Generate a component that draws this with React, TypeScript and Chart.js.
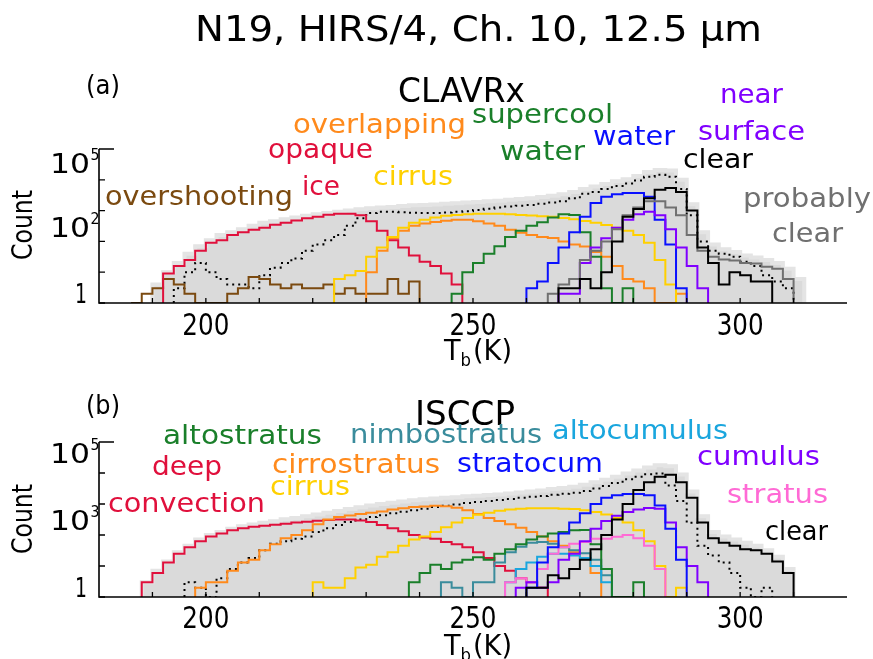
import React, { useEffect, useRef } from 'react';
import { Chart, registerables } from 'chart.js';
Chart.register(...registerables);

// ---------- axis setup ----------
const BIN = 2;
const X_MIN = 180;
const X_MAX = 320;
const Y_MIN = 1;
const Y_MAX = 1e5;
const X_TICK_LABELS = [200, 250, 300];
const X_MINOR_TICKS = [190, 200, 210, 220, 230, 240, 250, 260, 270, 280, 290, 300, 310];
const Y_DECADES = [1, 10, 100, 1000, 10000, 100000];

// ---------- panel (a) CLAVRx : counts per 2 K bin, first bin edge given ----------
const A_TOTAL_START = 190;
const A_TOTAL = [4, 10, 20, 40, 70, 110, 160, 200, 250, 320, 400, 450, 520, 600, 680, 760, 830, 910, 1000, 1100, 1200, 1260, 1320, 1410, 1480, 1510, 1590, 1660, 1740, 1820, 1900, 2000, 2090, 2240, 2400, 2510, 2750, 3020, 3390, 3980, 5010, 6030, 7240, 8910, 10500, 13200, 17800, 20900, 20000, 10000, 1600, 200, 80, 56, 45, 35, 30, 25, 20, 13, 6];
const A_DOTTED_START = 194;
const A_DOTTED = [3, 10, 20, 10, 6, 4, 4, 3, 8, 14, 20, 28, 50, 80, 110, 160, 320, 560, 830, 910, 910, 890, 850, 830, 830, 870, 910, 950, 1050, 1150, 1260, 1350, 1450, 1510, 1660, 1820, 2000, 2510, 3550, 3980, 5010, 6310, 7590, 9550, 12600, 14500, 12600, 5010, 700, 100, 50, 40, 32, 22, 16, 8, 5, 3];
const A_OVERSHOOT_START = 186;
const A_OVERSHOOT = [0, 2, 3, 6, 4, 2, 0, 0, 0, 2, 3, 7, 6, 4, 3, 4, 3, 3, 4, 2, 3, 2, 2, 2, 6, 2, 5];
const A_OPAQUE_START = 192;
const A_OPAQUE = [9, 16, 25, 50, 90, 110, 160, 200, 240, 280, 350, 400, 480, 560, 630, 740, 790, 790, 710, 450, 220, 110, 63, 35, 22, 16, 9, 4];
const A_CIRRUS_START = 224;
const A_CIRRUS = [6, 8, 11, 32, 63, 140, 280, 400, 500, 600, 680, 720, 760, 790, 790, 790, 760, 720, 690, 660, 630, 580, 520, 460, 400, 340, 280, 220, 160, 90, 25, 4];
const A_OVERLAP_START = 230;
const A_OVERLAP = [10, 50, 130, 220, 320, 380, 430, 470, 500, 500, 450, 380, 320, 240, 190, 160, 140, 130, 100, 80, 68, 45, 32, 16, 6, 5, 3, 0, 0, 2];
const A_SUPERCOOL_START = 246;
const A_SUPERCOOL = [2, 10, 20, 40, 70, 140, 220, 320, 420, 600, 760, 720, 200, 32, 3, 0, 3];
const A_WATER_START = 260;
const A_WATER = [3, 5, 20, 63, 200, 630, 1780, 2820, 3390, 3720, 3720, 2820, 500, 80, 3];
const A_NEARSURF_START = 266;
const A_NEARSURF = [2, 2, 20, 63, 126, 280, 500, 760, 910, 710, 250, 63, 16, 3];
const A_CLEAR_START = 266;
const A_CLEAR = [3, 3, 6, 3, 10, 100, 630, 1120, 2510, 4790, 5370, 3980, 1000, 63, 20, 4, 10, 8, 5, 5];
const A_PROBCLEAR_START = 264;
const A_PROBCLEAR = [2, 4, 6, 25, 50, 100, 250, 710, 1260, 2000, 2000, 1260, 710, 160, 50, 32, 26, 24, 20, 19, 15, 13, 6];

// ---------- panel (b) ISCCP ----------
const B_TOTAL_START = 188;
const B_TOTAL = [3, 7, 14, 28, 45, 71, 100, 126, 158, 190, 220, 250, 280, 320, 355, 400, 460, 525, 600, 690, 790, 890, 1000, 1100, 1200, 1320, 1410, 1510, 1590, 1660, 1780, 1860, 1950, 2040, 2190, 2340, 2510, 2750, 3020, 3310, 3630, 4170, 5010, 6030, 7590, 9550, 12000, 15100, 17800, 16600, 8910, 2510, 400, 126, 89, 71, 56, 45, 32, 20, 8];
const B_DOTTED_START = 196;
const B_DOTTED = [3, 2, 0, 4, 8, 13, 18, 32, 52, 63, 76, 89, 126, 166, 209, 263, 316, 380, 437, 501, 562, 631, 708, 794, 871, 955, 1070, 1150, 1260, 1350, 1450, 1590, 1700, 1820, 2000, 2140, 2290, 2630, 3160, 3800, 4790, 6310, 7590, 9120, 9550, 3980, 1260, 250, 45, 22, 13, 6, 2, 0, 2];
const B_DEEPCONV_START = 188;
const B_DEEPCONV = [3, 6, 13, 25, 40, 63, 89, 112, 141, 166, 186, 200, 214, 229, 251, 269, 288, 302, 316, 316, 295, 263, 209, 166, 132, 100, 83, 76, 60, 50, 40, 28, 18, 10, 7, 4, 3, 2];
const B_CIRROSTRATUS_START = 198;
const B_CIRROSTRATUS = [2, 3, 3, 7, 13, 16, 32, 50, 79, 100, 141, 224, 316, 380, 427, 479, 525, 575, 661, 724, 794, 832, 871, 851, 759, 631, 479, 355, 282, 224, 170, 126, 89, 63, 45, 28, 18, 6];
const B_CIRRUS_START = 220;
const B_CIRRUS = [3, 2, 2, 4, 9, 11, 20, 28, 45, 71, 89, 126, 178, 251, 355, 447, 525, 603, 661, 708, 724, 724, 724, 708, 692, 631, 550, 457, 355, 251, 141, 63, 10, 0, 2];
const B_ALTOSTRATUS_START = 238;
const B_ALTOSTRATUS = [3, 6, 11, 8, 13, 16, 19, 16, 25, 35, 50, 71, 89, 112, 126, 141, 145, 50, 8, 0, 0, 3];
const B_NIMBOSTRATUS_START = 244;
const B_NIMBOSTRATUS = [3, 2, 0, 3, 3, 13, 28, 42, 56, 60, 52, 40, 32, 26, 16, 5];
const B_ALTOCUMULUS_START = 256;
const B_ALTOCUMULUS = [3, 8, 13, 20, 25, 25, 22, 18, 10, 3];
const B_STRATOCUM_START = 260;
const B_STRATOCUM = [2, 13, 40, 112, 251, 500, 1000, 1585, 1905, 2089, 2089, 1905, 891, 158, 16];
const B_CUMULUS_START = 258;
const B_CUMULUS = [2, 3, 2, 3, 16, 25, 63, 158, 282, 417, 550, 661, 741, 708, 251, 40, 10, 3];
const B_STRATUS_START = 256;
const B_STRATUS = [3, 4, 3, 8, 25, 40, 52, 60, 76, 76, 87, 100, 79, 45, 8];
const B_CLEAR_START = 260;
const B_CLEAR = [2, 2, 5, 4, 8, 16, 35, 100, 316, 1000, 2818, 5012, 7586, 8710, 5012, 1585, 251, 79, 56, 45, 35, 32, 25, 14, 6];

// ---------- styles ----------
const FONT = '"DejaVu Sans", Verdana, sans-serif';
const FILL_GRAY = '#dadada';
const BROWN = '#7b4a10';
const RED = '#e0103c';
const ORANGE = '#ff8a1c';
const YELLOW = '#ffd000';
const GREEN = '#1a7f2a';
const BLUE = '#0a10ff';
const PURPLE = '#8000ff';
const GRAYLINE = '#707070';
const TEAL = '#3a8c9c';
const SKY = '#1aa6de';
const PINK = '#ff6ad5';
const BLACK = '#000000';

type Kind = 'fill' | 'dotted' | 'line';
interface Series { start: number; counts: number[]; color: string; kind: Kind }
type TextItem = [string, number, number, number, string, number];
interface YLabel { value: number; exp: string; base: number }

const A_SERIES: Series[] = [
  { start: A_TOTAL_START, counts: A_TOTAL, color: FILL_GRAY, kind: 'fill' },
  { start: A_DOTTED_START, counts: A_DOTTED, color: BLACK, kind: 'dotted' },
  { start: A_CLEAR_START, counts: A_CLEAR, color: BLACK, kind: 'line' },
  { start: A_PROBCLEAR_START, counts: A_PROBCLEAR, color: GRAYLINE, kind: 'line' },
  { start: A_NEARSURF_START, counts: A_NEARSURF, color: PURPLE, kind: 'line' },
  { start: A_WATER_START, counts: A_WATER, color: BLUE, kind: 'line' },
  { start: A_SUPERCOOL_START, counts: A_SUPERCOOL, color: GREEN, kind: 'line' },
  { start: A_CIRRUS_START, counts: A_CIRRUS, color: YELLOW, kind: 'line' },
  { start: A_OVERLAP_START, counts: A_OVERLAP, color: ORANGE, kind: 'line' },
  { start: A_OPAQUE_START, counts: A_OPAQUE, color: RED, kind: 'line' },
  { start: A_OVERSHOOT_START, counts: A_OVERSHOOT, color: BROWN, kind: 'line' },
];

const B_SERIES: Series[] = [
  { start: B_TOTAL_START, counts: B_TOTAL, color: FILL_GRAY, kind: 'fill' },
  { start: B_DOTTED_START, counts: B_DOTTED, color: BLACK, kind: 'dotted' },
  { start: B_CLEAR_START, counts: B_CLEAR, color: BLACK, kind: 'line' },
  { start: B_STRATOCUM_START, counts: B_STRATOCUM, color: BLUE, kind: 'line' },
  { start: B_CUMULUS_START, counts: B_CUMULUS, color: PURPLE, kind: 'line' },
  { start: B_STRATUS_START, counts: B_STRATUS, color: PINK, kind: 'line' },
  { start: B_CIRRUS_START, counts: B_CIRRUS, color: YELLOW, kind: 'line' },
  { start: B_ALTOSTRATUS_START, counts: B_ALTOSTRATUS, color: GREEN, kind: 'line' },
  { start: B_ALTOCUMULUS_START, counts: B_ALTOCUMULUS, color: SKY, kind: 'line' },
  { start: B_NIMBOSTRATUS_START, counts: B_NIMBOSTRATUS, color: TEAL, kind: 'line' },
  { start: B_CIRROSTRATUS_START, counts: B_CIRROSTRATUS, color: ORANGE, kind: 'line' },
  { start: B_DEEPCONV_START, counts: B_DEEPCONV, color: RED, kind: 'line' },
];

// text: [label, left x, baseline y (page coords), font size, colour, fitted width]
const A_TEXTS: TextItem[] = [
  ['(a)', 86, 94, 26, BLACK, 34],
  ['CLAVRx', 398, 102, 34, BLACK, 127],
  ['overshooting', 105, 205, 27, BROWN, 188],
  ['opaque', 268, 158, 27, RED, 105],
  ['ice', 302, 195, 27, RED, 38],
  ['overlapping', 293, 133, 27, ORANGE, 173],
  ['cirrus', 373, 185, 27, YELLOW, 80],
  ['supercool', 472, 123, 27, GREEN, 141],
  ['water', 500, 160, 27, GREEN, 85],
  ['water', 593, 145, 27, BLUE, 82],
  ['near', 720, 103, 27, PURPLE, 63],
  ['surface', 698, 140, 27, PURPLE, 107],
  ['clear', 683, 168, 27, BLACK, 70],
  ['probably', 743, 207, 27, GRAYLINE, 128],
  ['clear', 772, 242, 27, GRAYLINE, 71],
];
const B_TEXTS: TextItem[] = [
  ['(b)', 86, 414, 26, BLACK, 34],
  ['ISCCP', 415, 425, 34, BLACK, 100],
  ['altostratus', 163, 444, 27, GREEN, 159],
  ['deep', 152, 475, 27, RED, 70],
  ['convection', 108, 512, 27, RED, 157],
  ['nimbostratus', 350, 443, 27, TEAL, 192],
  ['altocumulus', 552, 439, 27, SKY, 176],
  ['cirrostratus', 272, 473, 27, ORANGE, 168],
  ['cirrus', 270, 495, 27, YELLOW, 80],
  ['stratocum', 457, 472, 27, BLUE, 146],
  ['cumulus', 697, 465, 27, PURPLE, 123],
  ['stratus', 727, 503, 27, PINK, 101],
  ['clear', 765, 540, 27, BLACK, 63],
];
const A_YLABELS: YLabel[] = [
  { value: 1e5, exp: '5', base: 173 },
  { value: 1e2, exp: '2', base: 237 },
  { value: 1, exp: '', base: 303 },
];
const B_YLABELS: YLabel[] = [
  { value: 1e5, exp: '5', base: 463 },
  { value: 1e3, exp: '3', base: 530 },
  { value: 1, exp: '', base: 597 },
];

interface Panel {
  offsetY: number; height: number; padTop: number; padBottom: number;
  series: Series[]; texts: TextItem[]; yLabels: YLabel[];
  xLabelBase: number; tbBase: number; countY: number; title: boolean;
}

const PANEL_A: Panel = {
  offsetY: 0, height: 372, padTop: 149, padBottom: 372 - 303,
  series: A_SERIES, texts: A_TEXTS, yLabels: A_YLABELS,
  xLabelBase: 335, tbBase: 360, countY: 225, title: true,
};
const PANEL_B: Panel = {
  offsetY: 372, height: 287, padTop: 442 - 372, padBottom: 287 - (597 - 372),
  series: B_SERIES, texts: B_TEXTS, yLabels: B_YLABELS,
  xLabelBase: 628, tbBase: 655, countY: 519, title: false,
};

function histPoints(start: number, counts: number[]) {
  const pts: { x: number; y: number }[] = [{ x: start, y: Y_MIN }];
  counts.forEach((c, i) => pts.push({ x: start + i * BIN, y: Math.max(c, Y_MIN) }));
  pts.push({ x: start + counts.length * BIN, y: Y_MIN });
  return pts;
}

function fitText(ctx: CanvasRenderingContext2D, text: string, x: number, base: number, size: number,
  color: string, width: number, align: 'left' | 'center' | 'right' = 'left') {
  ctx.save();
  ctx.font = `${size}px ${FONT}`;
  ctx.fillStyle = color;
  ctx.textAlign = 'left';
  ctx.textBaseline = 'alphabetic';
  const w = ctx.measureText(text).width;
  const sx = width > 0 ? width / w : 1;
  const real = w * sx;
  let left = x;
  if (align === 'center') left = x - real / 2;
  if (align === 'right') left = x - real;
  ctx.translate(left, base);
  ctx.scale(sx, 1);
  ctx.fillText(text, 0, 0);
  ctx.restore();
}

function makePlugin(p: Panel) {
  return {
    id: 'panelDecor',
    afterDraw(chart: any) {
      const ctx: CanvasRenderingContext2D = chart.ctx;
      const xs = chart.scales.x;
      const ys = chart.scales.y;
      const { left, right, top, bottom } = chart.chartArea;
      const oy = p.offsetY;
      ctx.save();
      ctx.strokeStyle = '#000';
      ctx.lineWidth = 1.6;
      ctx.beginPath();
      ctx.moveTo(left, top);
      ctx.lineTo(left, bottom);
      ctx.lineTo(right, bottom);
      ctx.stroke();
      ctx.lineWidth = 1.3;
      ctx.beginPath();
      Y_DECADES.forEach((v) => {
        const y = ys.getPixelForValue(v);
        const len = v === Y_MAX ? 15 : 6;
        ctx.moveTo(left, y);
        ctx.lineTo(left + len, y);
      });
      X_MINOR_TICKS.forEach((t) => {
        const x = xs.getPixelForValue(t);
        ctx.moveTo(x, bottom);
        ctx.lineTo(x, bottom - 5);
      });
      ctx.stroke();
      ctx.restore();

      X_TICK_LABELS.forEach((t) => {
        fitText(ctx, String(t), xs.getPixelForValue(t), p.xLabelBase - oy, 30, '#000', 47, 'center');
      });
      p.yLabels.forEach((l) => {
        if (l.exp) {
          fitText(ctx, '10', 90, l.base - oy, 26, '#000', 40, 'right');
          fitText(ctx, l.exp, 90.5, l.base - oy - 13, 15, '#000', 9, 'left');
        } else {
          fitText(ctx, '1', 87, l.base - oy, 26, '#000', 12, 'right');
        }
      });
      ctx.save();
      ctx.translate(32, p.countY - oy);
      ctx.rotate(-Math.PI / 2);
      fitText(ctx, 'Count', 0, 0, 28, '#000', 70, 'center');
      ctx.restore();
      ctx.save();
      ctx.fillStyle = '#000';
      ctx.textBaseline = 'alphabetic';
      ctx.font = `28px ${FONT}`;
      const wT = ctx.measureText('T').width;
      const wK = ctx.measureText('(K)').width;
      ctx.font = `17px ${FONT}`;
      const wb = ctx.measureText('b').width;
      const total = wT + wb + 2 + wK;
      const sx = 68 / total;
      ctx.translate(444, p.tbBase - oy);
      ctx.scale(sx, 1);
      ctx.font = `28px ${FONT}`;
      ctx.fillText('T', 0, 0);
      ctx.font = `17px ${FONT}`;
      ctx.fillText('b', wT, 6);
      ctx.font = `28px ${FONT}`;
      ctx.fillText('(K)', wT + wb + 2, 0);
      ctx.restore();
      p.texts.forEach(([t, x, b, s, c, w]) => fitText(ctx, t, x, b - oy, s, c, w));
      if (p.title) {
        fitText(ctx, 'N19, HIRS/4, Ch. 10, 12.5 μm', 195, 41, 36, '#000', 567);
      }
    },
  };
}

function makeChart(canvas: HTMLCanvasElement, p: Panel) {
  const datasets = p.series.map((s, i) => {
    const base: any = {
      data: histPoints(s.start, s.counts),
      stepped: 'before',
      pointRadius: 0,
      borderWidth: 2,
      borderColor: s.color,
      fill: false,
      order: i,
    };
    if (s.kind === 'fill') {
      base.fill = 'start';
      base.backgroundColor = FILL_GRAY;
      base.borderColor = '#e4e4e4';
      base.borderWidth = 4;
      base.order = 100;
    } else if (s.kind === 'dotted') {
      base.borderDash = [2, 4];
      base.borderWidth = 2;
      base.order = 90;
    }
    return base;
  });
  return new Chart(canvas, {
    type: 'line',
    data: { datasets },
    options: {
      responsive: false,
      devicePixelRatio: 1,
      animation: false,
      layout: { padding: { left: 99, right: 26, top: p.padTop, bottom: p.padBottom } },
      scales: {
        x: { type: 'linear', min: X_MIN, max: X_MAX, display: false },
        y: { type: 'logarithmic', min: Y_MIN, max: Y_MAX, display: false },
      },
      plugins: { legend: { display: false }, tooltip: { enabled: false } },
      elements: { line: { tension: 0 } },
    } as any,
    plugins: [makePlugin(p)],
  });
}

export default function App() {
  const refA = useRef<HTMLCanvasElement>(null);
  const refB = useRef<HTMLCanvasElement>(null);
  useEffect(() => {
    const a = makeChart(refA.current as HTMLCanvasElement, PANEL_A);
    const b = makeChart(refB.current as HTMLCanvasElement, PANEL_B);
    return () => { a.destroy(); b.destroy(); };
  }, []);
  return (
    <div style={{ position: 'absolute', left: 0, top: 0, width: 873, height: 659, background: '#fff', overflow: 'hidden' }}>
      <canvas ref={refA} width={873} height={372} style={{ position: 'absolute', left: 0, top: 0, width: 873, height: 372 }} />
      <canvas ref={refB} width={873} height={287} style={{ position: 'absolute', left: 0, top: 372, width: 873, height: 287 }} />
    </div>
  );
}
